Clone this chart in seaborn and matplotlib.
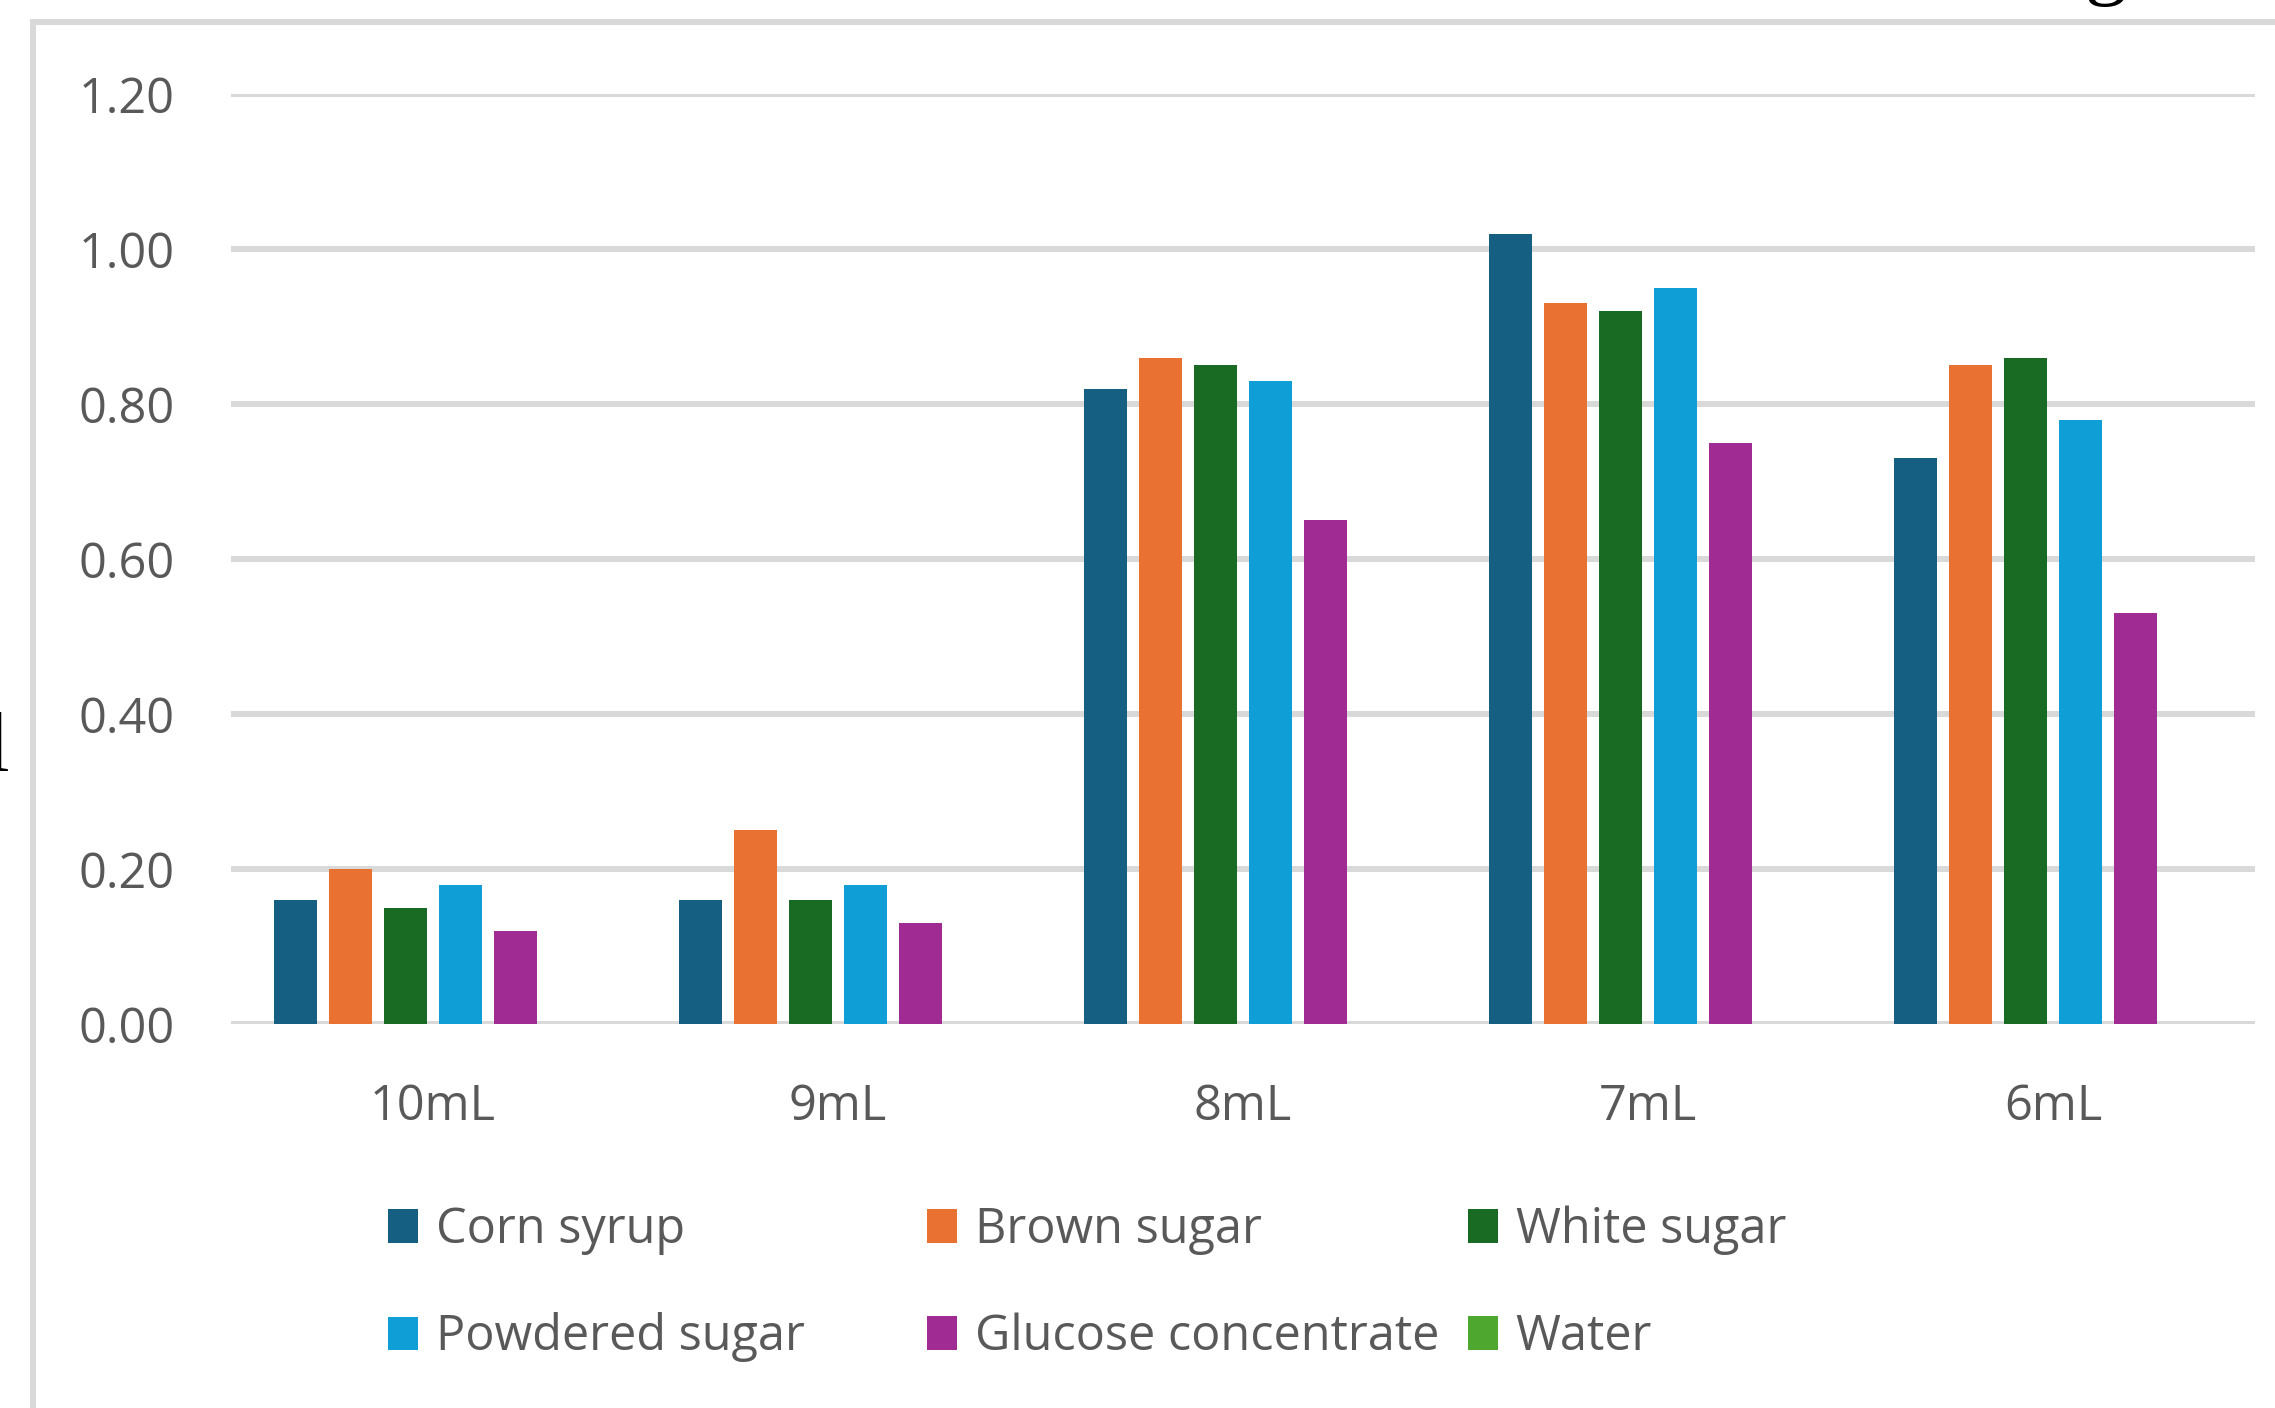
import matplotlib
matplotlib.use("Agg")
import matplotlib.pyplot as plt
from matplotlib.patches import Patch, Rectangle
import seaborn as sns
import pandas as pd

# Absorbance readings by sweetener and volume
volumes = ["10mL", "9mL", "8mL", "7mL", "6mL"]
series_names = ["Corn syrup", "Brown sugar", "White sugar",
                "Powdered sugar", "Glucose concentrate", "Water"]
corn_syrup = [0.16, 0.16, 0.82, 1.02, 0.73]
brown_sugar = [0.20, 0.25, 0.86, 0.93, 0.85]
white_sugar = [0.15, 0.16, 0.85, 0.92, 0.86]
powdered_sugar = [0.18, 0.18, 0.83, 0.95, 0.78]
glucose_concentrate = [0.12, 0.13, 0.65, 0.75, 0.53]
water = [0.0, 0.0, 0.0, 0.0, 0.0]
colors = ["#156082", "#E97132", "#196B24", "#0F9ED5", "#A02B93", "#4EA72E"]
y_ticks = [0.0, 0.2, 0.4, 0.6, 0.8, 1.0, 1.2]

all_values = [corn_syrup, brown_sugar, white_sugar,
              powdered_sugar, glucose_concentrate, water]
rows = []
for name, vals in zip(series_names, all_values):
    for vol, v in zip(volumes, vals):
        rows.append({"volume": vol, "series": name, "value": v})
df = pd.DataFrame(rows)

sns.set_theme(style="white")
plt.rcParams["font.family"] = ["Open Sans", "DejaVu Sans"]

W, H = 2275, 1408
fig = plt.figure(figsize=(W / 100, H / 100), dpi=100)
fig.patch.set_facecolor("white")

ax = fig.add_axes([230.5 / W, 1 - 1024 / H, 2025 / W, 930 / H])
sns.barplot(data=df, x="volume", y="value", hue="series",
            order=volumes, hue_order=series_names, palette=colors,
            width=0.815, gap=0.218, saturation=1, linewidth=0,
            errorbar=None, legend=False, ax=ax)

ax.set_ylim(0, 1.2)
ax.set_yticks(y_ticks)
ax.set_yticklabels([f"{t:.2f}" for t in y_ticks])
ax.set_xlabel("")
ax.set_ylabel("")
for s in ax.spines.values():
    s.set_visible(False)
ax.yaxis.grid(True, color="#D9D9D9", linewidth=4.3)
ax.xaxis.grid(False)
ax.set_axisbelow(True)
ax.tick_params(axis="both", length=0, labelsize=35, labelcolor="#595959")
ax.tick_params(axis="y", pad=40)
ax.tick_params(axis="x", pad=42)

# Legend laid out as three fixed-width columns
legend_cols = [[0, 3], [1, 4], [2, 5]]
col_x = [388, 927, 1468]
for idx, x0 in zip(legend_cols, col_x):
    handles = [Patch(facecolor=colors[i], edgecolor="none") for i in idx]
    labels = [series_names[i] for i in idx]
    fig.legend(handles, labels, loc="center left",
               bbox_to_anchor=(x0 / W, 1 - 1284 / H),
               frameon=False, fontsize=35, labelcolor="#595959",
               handlelength=0.61, handleheight=0.69, handletextpad=0.37,
               labelspacing=1.18, borderpad=0, borderaxespad=0)

# Chart frame
fig.add_artist(Rectangle((33 / W, -0.5), 2.0, 1.5 - 22 / H,
                         transform=fig.transFigure, fill=False,
                         edgecolor="#D9D9D9", linewidth=4.3))

# Surrounding page text
fig.text(2106 / W, 1 - 7 / H, "g", ha="center", va="bottom",
         fontsize=61, family="Liberation Serif", color="black")
fig.text(9 / W, 1 - 771 / H, "l", ha="right", va="baseline",
         fontsize=61, family="Liberation Serif", color="black")

fig.savefig("out.png", dpi=100, facecolor="white")
